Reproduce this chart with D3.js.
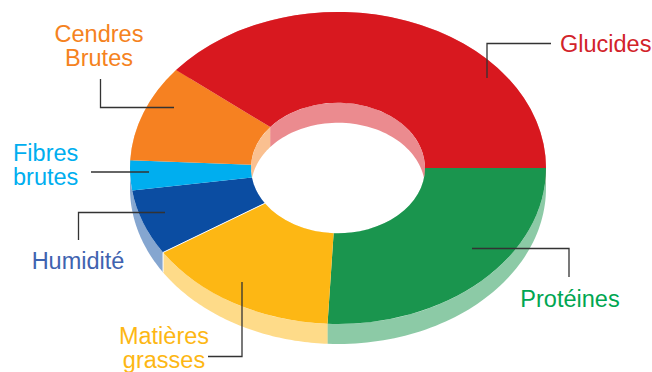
<!DOCTYPE html>
<html lang="fr">
<head>
<meta charset="utf-8">
<title>Composition</title>
<script src="https://cdn.jsdelivr.net/npm/d3@7"></script>
<style>
  html, body { margin: 0; padding: 0; background: #fff; overflow: hidden; }
  svg { display: block; }
  text { font-family: "Liberation Sans", Arial, sans-serif; font-size: 23.5px; }
</style>
</head>
<body>
<div id="chart"></div>
<script>
const WIDTH = 652;
const HEIGHT = 372;

// clockwise from 3 o'clock
const categories = ['Protéines', 'Matières grasses', 'Humidité', 'Fibres brutes', 'Cendres Brutes', 'Glucides'];
const values = [25.8, 15.1, 6.8, 3.1, 10.0, 39.2];
const sliceColors = ['#1a954e', '#fdb714', '#0b4da2', '#00aeef', '#f68121', '#d8181f'];
const wallColors = ['#1a954e', '#fdb714', '#0b4da2', '#0b4da2', '#f68121', '#d8181f'];
const labelColors = ['#00a651', '#fdb714', '#3f63b0', '#00aeef', '#f58220', '#d2232a'];
const labelLines = [['Protéines'], ['Matières', 'grasses'], ['Humidité'], ['Fibres', 'brutes'], ['Cendres', 'Brutes'], ['Glucides']];

// layout
const CX = 338;
const CY = 168;
const OUTER_R = 208;
const INNER_R = 87;
const SQUASH = 0.75;
const DEPTH = 20;
const labelLayout = [
  { x: 570, y: 307, anchor: 'middle' },
  { x: 164, y: 344, anchor: 'middle' },
  { x: 78, y: 269, anchor: 'middle' },
  { x: 13, y: 161, anchor: 'start' },
  { x: 99, y: 42, anchor: 'middle' },
  { x: 560, y: 52, anchor: 'start' },
];
const leaders = [
  [[472, 248.5], [569, 248.5], [569, 277]],
  [[242, 282], [242, 356.5], [208, 356.5]],
  [[165, 212.5], [78.5, 212.5], [78.5, 240]],
  [[149, 172], [91, 172]],
  [[174, 107.5], [100.5, 107.5], [100.5, 79]],
  [[487, 78], [487, 43.5], [551, 43.5]],
];

const svg = d3.select('#chart')
  .append('svg')
  .attr('width', WIDTH)
  .attr('height', HEIGHT);

const slices = d3.pie()
  .sort(null)
  .startAngle(Math.PI / 2)
  .endAngle(Math.PI / 2 + 2 * Math.PI)(values);

const arc = d3.arc().innerRadius(INNER_R).outerRadius(OUTER_R);
const rimLine = d3.line();

function rimPoint(r, a, dy) {
  return [CX + r * Math.sin(a), CY - r * SQUASH * Math.cos(a) + dy];
}

// side of the ring between two angles, top edge then bottom edge back
function wallPath(r, a0, a1) {
  const steps = d3.range(0, 61).map(i => a0 + (a1 - a0) * i / 60);
  const top = steps.map(a => rimPoint(r, a, 0));
  const bottom = steps.slice().reverse().map(a => rimPoint(r, a, DEPTH));
  return rimLine(top.concat(bottom)) + 'Z';
}

svg.append('defs')
  .append('clipPath')
  .attr('id', 'hole-clip')
  .append('ellipse')
  .attr('cx', CX)
  .attr('cy', CY)
  .attr('rx', INNER_R)
  .attr('ry', INNER_R * SQUASH);

// outer wall
svg.append('g')
  .selectAll('path')
  .data(slices)
  .join('path')
  .attr('d', d => wallPath(OUTER_R, d.startAngle, d.endAngle))
  .attr('fill', (d, i) => wallColors[i])
  .attr('fill-opacity', 0.5);

// top of the ring
svg.append('g')
  .attr('transform', `translate(${CX},${CY}) scale(1,${SQUASH})`)
  .selectAll('path')
  .data(slices)
  .join('path')
  .attr('d', arc)
  .attr('fill', (d, i) => sliceColors[i]);

// inner wall, only the far side shows through the hole
svg.append('g')
  .attr('clip-path', 'url(#hole-clip)')
  .selectAll('path')
  .data(slices)
  .join('path')
  .attr('d', d => wallPath(INNER_R, d.startAngle, d.endAngle))
  .attr('fill', (d, i) => sliceColors[i])
  .attr('fill-opacity', 0.5);

// thin white seam between humidité and matières grasses
const seamAngle = slices[1].endAngle;
svg.append('path')
  .attr('d', rimLine([rimPoint(INNER_R, seamAngle, 0), rimPoint(OUTER_R, seamAngle, 0), rimPoint(OUTER_R, seamAngle, DEPTH)]))
  .attr('fill', 'none')
  .attr('stroke', '#fff')
  .attr('stroke-width', 1);

svg.append('g')
  .selectAll('path')
  .data(leaders)
  .join('path')
  .attr('d', d => rimLine(d))
  .attr('fill', 'none')
  .attr('stroke', '#333')
  .attr('stroke-width', 1.3);

svg.append('g')
  .selectAll('text')
  .data(categories)
  .join('text')
  .attr('x', (d, i) => labelLayout[i].x)
  .attr('y', (d, i) => labelLayout[i].y)
  .attr('text-anchor', (d, i) => labelLayout[i].anchor)
  .attr('fill', (d, i) => labelColors[i])
  .each(function (d, i) {
    d3.select(this)
      .selectAll('tspan')
      .data(labelLines[i])
      .join('tspan')
      .attr('x', labelLayout[i].x)
      .attr('dy', (line, j) => (j === 0 ? 0 : 24))
      .text(line => line);
  });
</script>
</body>
</html>
